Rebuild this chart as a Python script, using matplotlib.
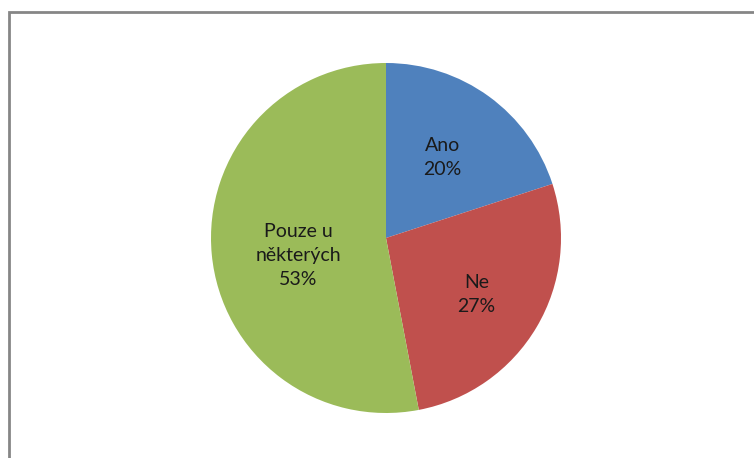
import matplotlib.pyplot as plt
import numpy as np
from matplotlib.patches import Rectangle

labels = ['Ano', 'Ne', 'Pouze u\nněkterých']
shares = [20, 27, 53]
colors = ['#4F81BD', '#C0504D', '#9BBB59']

plt.rcParams['font.family'] = ['Lato', 'DejaVu Sans']

W, H = 754, 458
fig = plt.figure(figsize=(W / 100, H / 100), dpi=100)

# chart area border (runs off the right and bottom edges)
fig.patches.append(Rectangle((9 / W, -0.1), 2, 1.1 - 12 / H, transform=fig.transFigure,
                             fill=False, edgecolor='#868686', linewidth=2))

# pie: centre (386, 238), radius 175 px
ax = fig.add_axes([211 / W, (H - 413) / H, 350 / W, 350 / H])
wedges, _ = ax.pie(shares, colors=colors, startangle=90, counterclock=False,
                   wedgeprops=dict(linewidth=0))
ax.set_xlim(-1, 1)
ax.set_ylim(-1, 1)
ax.set_aspect('equal')

# label distance from centre (fraction of radius) and angle tweak, Excel-like placement
label_r = [0.56, 0.61, 0.51]
label_shift = [1, -1.5, 6]  # degrees
for w, lab, s, r, sh in zip(wedges, labels, shares, label_r, label_shift):
    ang = np.deg2rad((w.theta1 + w.theta2) / 2 + sh)
    ax.text(r * np.cos(ang), r * np.sin(ang), f'{lab}\n{s}%', ha='center', va='center',
            fontsize=14, color='#1a1a1a', linespacing=1.5)

plt.savefig('out.png', dpi=100)
